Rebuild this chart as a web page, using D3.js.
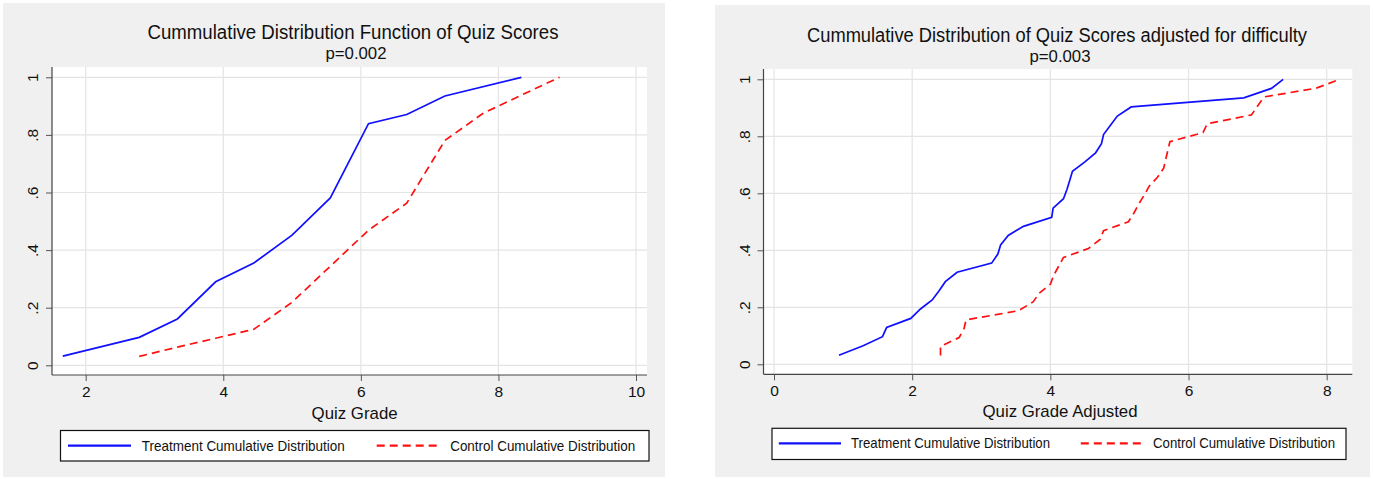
<!DOCTYPE html>
<html>
<head>
<meta charset="utf-8">
<script src="https://cdn.jsdelivr.net/npm/d3@7"></script>
<style>
body { margin: 0; background: #fff; }
svg { display: block; }
text { font-family: "Liberation Sans", Arial, sans-serif; fill: #111; }
</style>
</head>
<body>
<svg id="chart" width="1373" height="479"></svg>
<script>
// values
var leftTreatX = [1.667, 2.778, 3.333, 3.889, 4.444, 5.0, 5.556, 6.111, 6.667, 7.222, 8.333];
var leftTreatY = [0.032, 0.097, 0.161, 0.290, 0.355, 0.452, 0.581, 0.839, 0.871, 0.935, 1.0];
var leftCtrlX = [2.778, 3.333, 3.889, 4.444, 5.0, 5.556, 6.111, 6.667, 7.222, 7.778, 8.333, 8.889];
var leftCtrlY = [0.031, 0.063, 0.094, 0.125, 0.219, 0.344, 0.469, 0.563, 0.781, 0.875, 0.938, 1.0];

var rightTreatX = [0.94, 1.29, 1.57, 1.63, 1.98, 2.12, 2.29, 2.39, 2.48, 2.65, 3.15, 3.24, 3.28, 3.39, 3.61, 4.02,
  4.04, 4.19, 4.24, 4.28, 4.32, 4.50, 4.655, 4.74, 4.77, 4.87, 4.97, 5.17, 6.80, 7.20, 7.37];
var rightTreatY = [0.032, 0.065, 0.097, 0.129, 0.161, 0.194, 0.226, 0.258, 0.290, 0.323, 0.355, 0.387, 0.419, 0.452,
  0.484, 0.516, 0.548, 0.581, 0.613, 0.645, 0.677, 0.710, 0.742, 0.774, 0.806, 0.839, 0.871, 0.903, 0.935, 0.968, 1.0];
var rightCtrlX = [2.41, 2.41, 2.68, 2.75, 2.78, 3.54, 3.75, 3.84, 4.00, 4.05, 4.12, 4.19, 4.55, 4.72, 4.77, 5.13,
  5.21, 5.28, 5.36, 5.43, 5.55, 5.64, 5.67, 5.70, 5.73, 6.21, 6.27, 6.91, 7.00, 7.09, 7.85, 8.19];
var rightCtrlY = [0.031, 0.063, 0.094, 0.125, 0.156, 0.188, 0.219, 0.250, 0.281, 0.313, 0.344, 0.375, 0.406, 0.438,
  0.469, 0.500, 0.531, 0.563, 0.594, 0.625, 0.656, 0.688, 0.719, 0.750, 0.781, 0.813, 0.844, 0.875, 0.906, 0.938, 0.969, 1.0];

var yTicks = [0, 0.2, 0.4, 0.6, 0.8, 1];
var yTickLabels = ["0", ".2", ".4", ".6", ".8", "1"];
var leftXTicks = [2, 4, 6, 8, 10];
var rightXTicks = [0, 2, 4, 6, 8];
var legendLabels = ["Treatment Cumulative Distribution", "Control Cumulative Distribution"];

var svg = d3.select("#chart");

function zip(xs, ys) {
  return xs.map(function(x, i) { return [x, ys[i]]; });
}

function panel(o) {
  var g = svg.append("g");

  g.append("rect").attr("x", o.bg[0]).attr("y", o.bg[1])
    .attr("width", o.bg[2] - o.bg[0]).attr("height", o.bg[3] - o.bg[1])
    .attr("fill", "#f0f0f0");
  g.append("rect").attr("x", o.frame[0]).attr("y", o.frame[1])
    .attr("width", o.frame[2] - o.frame[0]).attr("height", o.frame[3] - o.frame[1])
    .attr("fill", "#fff");

  var x = d3.scaleLinear().domain(o.xDom).range(o.xRng);
  var y = d3.scaleLinear().domain([0, 1]).range(o.yRng);

  // grid
  g.selectAll(".gx").data(o.xTicks).enter().append("line")
    .attr("x1", function(d) { return x(d); }).attr("x2", function(d) { return x(d); })
    .attr("y1", o.frame[1]).attr("y2", o.frame[3])
    .attr("stroke", "#e4e4e4").attr("stroke-width", 1.2);
  g.selectAll(".gy").data(yTicks).enter().append("line")
    .attr("x1", o.frame[0]).attr("x2", o.frame[2])
    .attr("y1", function(d) { return y(d); }).attr("y2", function(d) { return y(d); })
    .attr("stroke", "#e4e4e4").attr("stroke-width", 1.2);

  var line = d3.line().x(function(d) { return x(d[0]); }).y(function(d) { return y(d[1]); });

  g.append("path").datum(o.treat).attr("d", line)
    .attr("fill", "none").attr("stroke", "#1010ff").attr("stroke-width", 1.7);
  g.append("path").datum(o.ctrl).attr("d", line)
    .attr("fill", "none").attr("stroke", "#ff1010").attr("stroke-width", 1.7)
    .attr("stroke-dasharray", "8,5");

  // axes
  var ax = g.append("g").attr("transform", "translate(0," + o.frame[3] + ")")
    .call(d3.axisBottom(x).tickValues(o.xTicks).tickSize(6).tickSizeOuter(0).tickPadding(5));
  ax.select(".domain").remove();
  ax.selectAll("line").attr("stroke", "#555");
  ax.selectAll("text").style("font-size", "15.5px").attr("fill", "#111")
    .attr("font-family", "Liberation Sans, Arial, sans-serif");

  var ay = g.append("g").attr("transform", "translate(" + o.frame[0] + ",0)")
    .call(d3.axisLeft(y).tickValues(yTicks).tickSize(6)
      .tickFormat(function(d, i) { return yTickLabels[i]; }));
  ay.select(".domain").remove();
  ay.selectAll("line").attr("stroke", "#555");
  ay.selectAll("text").style("font-size", "15.5px").attr("fill", "#111")
    .attr("font-family", "Liberation Sans, Arial, sans-serif")
    .attr("x", -14).attr("dy", 0).attr("text-anchor", "middle")
    .attr("transform", "rotate(-90 -14 0)");

  g.append("line").attr("x1", o.frame[0]).attr("x2", o.frame[0])
    .attr("y1", o.frame[1]).attr("y2", o.frame[3]).attr("stroke", "#444").attr("stroke-width", 1.2);
  g.append("line").attr("x1", o.frame[0]).attr("x2", o.frame[2])
    .attr("y1", o.frame[3]).attr("y2", o.frame[3]).attr("stroke", "#444").attr("stroke-width", 1.2);

  // titles
  g.append("text").attr("x", o.titleX).attr("y", o.titleY).attr("text-anchor", "middle")
    .style("font-size", "19.5px").attr("textLength", o.titleW).attr("lengthAdjust", "spacingAndGlyphs")
    .text(o.title);
  g.append("text").attr("x", o.titleX + 3).attr("y", o.titleY + 20).attr("text-anchor", "middle")
    .style("font-size", "16px").attr("textLength", 61).attr("lengthAdjust", "spacingAndGlyphs")
    .text(o.sub);
  g.append("text").attr("x", o.xTitleX).attr("y", o.xTitleY).attr("text-anchor", "middle")
    .style("font-size", "17px").attr("textLength", o.xTitleW).attr("lengthAdjust", "spacingAndGlyphs")
    .text(o.xTitle);

  // legend
  var L = o.legend;
  g.append("rect").attr("x", L.box[0]).attr("y", L.box[1])
    .attr("width", L.box[2] - L.box[0]).attr("height", L.box[3] - L.box[1])
    .attr("fill", "#fff").attr("stroke", "#111").attr("stroke-width", 1.2);
  var styles = [{ c: "#1010ff", dash: null }, { c: "#ff1010", dash: "8,5" }];
  legendLabels.forEach(function(lab, i) {
    var it = L.items[i];
    g.append("line").attr("x1", it[0]).attr("x2", it[1]).attr("y1", L.ly).attr("y2", L.ly)
      .attr("stroke", styles[i].c).attr("stroke-width", 2.2).attr("stroke-dasharray", styles[i].dash);
    g.append("text").attr("x", it[2]).attr("y", L.ly + 5).style("font-size", "14.5px")
      .attr("textLength", it[3]).attr("lengthAdjust", "spacingAndGlyphs").text(lab);
  });
}

panel({
  bg: [3, 3, 665, 477],
  frame: [52, 67, 647, 375],
  xDom: [2, 10], xRng: [85.7, 636],
  yRng: [365.3, 77.3],
  xTicks: leftXTicks,
  treat: zip(leftTreatX, leftTreatY),
  ctrl: zip(leftCtrlX, leftCtrlY),
  title: "Cummulative Distribution Function of Quiz Scores", titleX: 353, titleY: 38.5, titleW: 411,
  sub: "p=0.002",
  xTitle: "Quiz Grade", xTitleX: 354.6, xTitleY: 418.5, xTitleW: 86,
  legend: { box: [60.5, 430.5, 649, 461], ly: 445.7,
    items: [[68, 131, 141.8, 203], [376.7, 439.6, 450.2, 185]] }
});

panel({
  bg: [715, 5, 1370, 477],
  frame: [763.5, 69, 1352.3, 374.3],
  xDom: [0, 8], xRng: [774, 1326.7],
  yRng: [364.3, 79.3],
  xTicks: rightXTicks,
  treat: zip(rightTreatX, rightTreatY),
  ctrl: zip(rightCtrlX, rightCtrlY),
  title: "Cummulative Distribution of Quiz Scores adjusted for difficulty", titleX: 1057, titleY: 41.6, titleW: 500,
  sub: "p=0.003",
  xTitle: "Quiz Grade Adjusted", xTitleX: 1060, xTitleY: 416.5, xTitleW: 155,
  legend: { box: [772, 428.3, 1346, 459.5], ly: 443.3,
    items: [[778.8, 841, 851, 199], [1080.8, 1143, 1153, 182]] }
});
</script>
</body>
</html>
